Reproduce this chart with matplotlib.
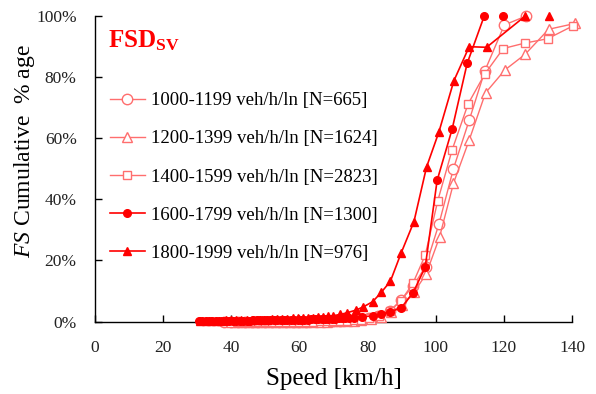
import matplotlib
matplotlib.use("Agg")
import matplotlib.pyplot as plt
from matplotlib.ticker import FuncFormatter

plt.rcParams['font.family'] = ['Liberation Serif', 'DejaVu Serif']
plt.rcParams['mathtext.fontset'] = 'custom'
plt.rcParams['mathtext.rm'] = 'Liberation Serif'
plt.rcParams['mathtext.it'] = 'Liberation Serif:italic'
plt.rcParams['mathtext.bf'] = 'Liberation Serif:bold'

labels = ["1000-1199 veh/h/ln [N=665]", "1200-1399 veh/h/ln [N=1624]",
          "1400-1599 veh/h/ln [N=2823]", "1600-1799 veh/h/ln [N=1300]",
          "1800-1999 veh/h/ln [N=976]"]

# 1000-1199 (open circles)
s1 = [38, 40, 42, 44, 46, 48, 50, 52, 54, 56, 58, 60, 62, 64, 66, 68, 70, 72, 74, 76, 78,
      80.5, 83, 86.6, 89.8, 93.3, 97.0, 100.9, 105.2, 109.8, 114.4, 120.1, 126.4]
p1 = [0, 0, 0, 0, 0, 0, 0, 0, 0, 0, 0, 0, 0, 0.1, 0.1, 0.2, 0.2, 0.3, 0.4, 0.6, 0.8,
      1.0, 1.8, 3.5, 7.0, 11.5, 18.0, 31.8, 50.1, 65.9, 82.1, 97.1, 100]
# 1200-1399 (open triangles)
s2 = [40, 42, 44, 46, 48, 50, 52, 54, 56, 58, 60, 62, 64, 66, 68, 70, 72, 74, 76, 78,
      81, 84, 87, 90, 93.6, 97.2, 101.1, 105.2, 109.8, 114.6, 120.3, 126.2, 133.1, 140.8]
p2 = [0, 0, 0, 0, 0, 0, 0, 0, 0, 0, 0, 0, 0, 0, 0, 0.1, 0.1, 0.2, 0.3, 0.5,
      0.9, 1.6, 3.0, 5.5, 9.5, 15.6, 27.6, 45.3, 59.4, 74.9, 82.4, 87.5, 95.7, 97.6]
# 1400-1599 (open squares)
s3 = [42, 44, 46, 48, 50, 52, 54, 56, 58, 60, 62, 64, 66, 68, 70, 72, 74, 76, 78,
      80.5, 83.5, 86.6, 89.8, 93.3, 96.9, 100.6, 104.8, 109.5, 114.4, 119.8, 126.2, 132.8, 140.2]
p3 = [0, 0, 0, 0, 0, 0, 0, 0, 0, 0, 0, 0, 0.1, 0.1, 0.2, 0.2, 0.3, 0.4, 0.6,
      1.0, 1.8, 3.5, 6.8, 12.5, 21.7, 39.6, 56.2, 71.3, 81.1, 89.4, 91.2, 92.6, 96.8]
# 1600-1799 (filled circles)
s4 = [30.5, 31.5, 32.5, 33.5, 34.5, 35.5, 36.5, 37.5, 38.5, 39.5, 40.5, 41.5, 42.5, 43.5,
      44.5, 45.5, 46.5, 47.5, 48.5, 49.5, 50.5, 51.5, 52.5, 53.5, 54.5, 55.5, 56.5, 57.5,
      58.5, 59.5, 60.5, 61.5, 62.5, 63.5, 64.5, 65.5, 66.5, 67.5, 68.5, 69.5, 70.5, 71.5,
      72.5, 73.5, 74.5, 76, 78.5, 81.5, 84.0, 86.6, 89.8, 93.3, 96.9, 100.4, 104.8, 109.2, 114.2, 119.6]
p4 = [0.3, 0.3, 0.3, 0.3, 0.3, 0.3, 0.3, 0.3, 0.3, 0.3, 0.3, 0.3, 0.3, 0.3,
      0.3, 0.3, 0.4, 0.4, 0.4, 0.4, 0.4, 0.4, 0.4, 0.5, 0.5, 0.5, 0.5, 0.5,
      0.5, 0.6, 0.6, 0.6, 0.6, 0.7, 0.7, 0.7, 0.8, 0.8, 0.8, 0.9, 0.9, 1.0,
      1.0, 1.1, 1.2, 1.3, 1.6, 1.8, 2.4, 3.2, 4.4, 9.3, 17.8, 46.2, 63.0, 84.5, 100, 100]
# 1800-1999 (filled triangles)
s5 = [31, 32.5, 34, 35.5, 37, 38.5, 40, 41.5, 43, 44.5, 46, 47.5, 49, 50.5, 52, 53.5,
      55, 56.5, 58, 59.5, 61, 62.5, 64, 65.5, 67, 68.5, 70, 72, 74.1, 76.5, 78.8, 81.5,
      84.0, 86.7, 89.8, 93.6, 97.3, 100.9, 105.3, 109.8, 114.9, 126.2, 133.1]
p5 = [0.3, 0.3, 0.3, 0.3, 0.3, 0.4, 0.4, 0.4, 0.4, 0.5, 0.5, 0.5, 0.6, 0.6, 0.7, 0.7,
      0.8, 0.9, 1.0, 1.0, 1.1, 1.2, 1.3, 1.4, 1.5, 1.7, 1.9, 2.3, 2.9, 3.7, 4.8, 6.5,
      9.5, 13.2, 22.3, 32.7, 50.6, 62.0, 78.8, 90.0, 89.8, 100, 100]

series = [(s1, p1), (s2, p2), (s3, p3), (s4, p4), (s5, p5)]
light = '#FF6E6E'
red = '#FF0000'
styles = [
    dict(color=light, marker='o', mfc='white', mec=light, ms=7.5, mew=1.0, lw=1.0),
    dict(color=light, marker='^', mfc='white', mec=light, ms=7.5, mew=1.0, lw=1.0),
    dict(color=light, marker='s', mfc='white', mec=light, ms=5.5, mew=1.0, lw=1.0),
    dict(color=red, marker='o', mfc=red, mec=red, ms=5.5, mew=1.0, lw=1.2),
    dict(color=red, marker='^', mfc=red, mec=red, ms=5.5, mew=1.0, lw=1.2),
]
# number of trailing points drawn as isolated markers (no connecting line)
lone = [0, 0, 0, 1, 1]

fig = plt.figure(figsize=(5.96, 3.94), dpi=100)
ax = fig.add_axes([0.159, 0.184, 0.801, 0.775])

for (s, p), st, lab, nl in zip(series, styles, labels, lone):
    n = len(s) - nl
    ax.plot(s[:n], p[:n], label=lab, clip_on=False, zorder=3, **st)
    if nl:
        st2 = dict(st)
        st2['lw'] = 0
        ax.plot(s[n:], p[n:], clip_on=False, zorder=3, **st2)

ax.set_xlim(0, 140)
ax.set_ylim(0, 100)
ax.set_xticks(range(0, 141, 20))
ax.set_yticks(range(0, 101, 20))
ax.yaxis.set_major_formatter(FuncFormatter(lambda v, _: f"{int(v)}%"))
ax.tick_params(direction='in', length=5, width=1, labelsize=12.5, labelcolor='#222222')
ax.tick_params(axis='x', pad=13)
ax.tick_params(axis='y', pad=13)
for sp in ['top', 'right']:
    ax.spines[sp].set_visible(False)
for sp in ['left', 'bottom']:
    ax.spines[sp].set_linewidth(1.0)

ax.set_xlabel("Speed [km/h]", fontsize=18, labelpad=9)
ax.set_ylabel(r"$\mathit{FS}$ Cumulative  % age", fontsize=17)
ax.yaxis.set_label_coords(-0.12, 0.558)

ax.text(0.027, 0.92, r"$\mathbf{FSD}_{\mathbf{SV}}$", transform=ax.transAxes,
        color=red, fontsize=18, ha='left', va='center')

leg = ax.legend(loc='upper left', bbox_to_anchor=(0.0, 0.80), frameon=False,
                fontsize=13.5, labelspacing=1.12, handlelength=1.87, handletextpad=0.32,
                borderaxespad=0.4)

fig.savefig("out.png", dpi=100)
